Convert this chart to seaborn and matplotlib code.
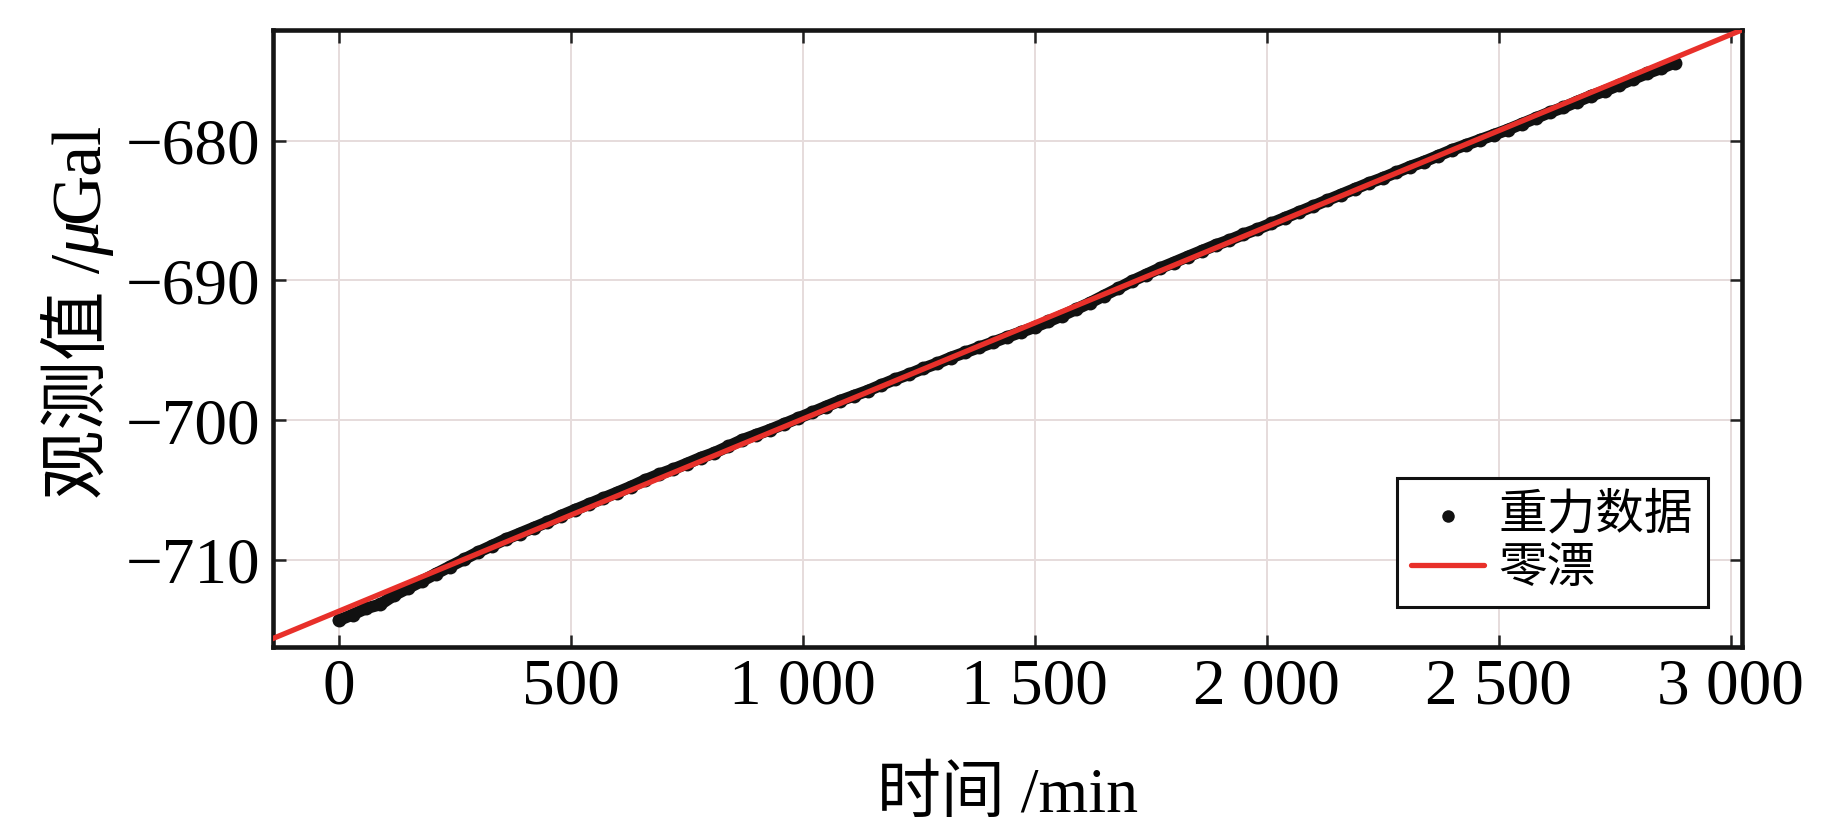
"""
重力仪零漂曲线: 观测值 vs 时间 (散点 + 线性零漂)
"""

import matplotlib
matplotlib.use("Agg")
import matplotlib.pyplot as plt
import matplotlib.ticker as mticker
import seaborn as sns

# ─────────────────────────────────────────
# 数据
# ─────────────────────────────────────────
TIME_MIN = [
    0, 30, 60, 90, 120, 150, 180, 210, 240, 270,
    300, 330, 360, 390, 420, 450, 480, 510, 540, 570,
    600, 630, 660, 690, 720, 750, 780, 810, 840, 870,
    900, 930, 960, 990, 1020, 1050, 1080, 1110, 1140, 1170,
    1200, 1230, 1260, 1290, 1320, 1350, 1380, 1410, 1440, 1470,
    1500, 1530, 1560, 1590, 1620, 1650, 1680, 1710, 1740, 1770,
    1800, 1830, 1860, 1890, 1920, 1950, 1980, 2010, 2040, 2070,
    2100, 2130, 2160, 2190, 2220, 2250, 2280, 2310, 2340, 2370,
    2400, 2430, 2460, 2490, 2520, 2550, 2580, 2610, 2640, 2670,
    2700, 2730, 2760, 2790, 2820, 2850, 2880,
]
GRAVITY = [
    -714.30, -713.89, -713.43, -713.16, -712.50, -711.99, -711.48, -710.96, -710.45, -709.94,
    -709.43, -708.97, -708.50, -708.09, -707.68, -707.27, -706.81, -706.39, -705.98, -705.57,
    -705.16, -704.74, -704.28, -703.87, -703.51, -703.10, -702.68, -702.32, -701.86, -701.40,
    -701.03, -700.67, -700.26, -699.85, -699.44, -699.02, -698.61, -698.25, -697.89, -697.47,
    -697.06, -696.70, -696.29, -695.93, -695.51, -695.15, -694.79, -694.43, -694.06, -693.70,
    -693.34, -692.93, -692.51, -692.05, -691.59, -691.08, -690.57, -690.05, -689.59, -689.13,
    -688.72, -688.30, -687.89, -687.48, -687.12, -686.71, -686.34, -685.93, -685.52, -685.11,
    -684.70, -684.28, -683.87, -683.46, -683.05, -682.68, -682.27, -681.86, -681.50, -681.09,
    -680.67, -680.31, -679.95, -679.59, -679.22, -678.81, -678.40, -677.99, -677.63, -677.21,
    -676.80, -676.44, -676.03, -675.61, -675.20, -674.84, -674.43,
]

# 零漂直线端点
DRIFT_T = [-150, 3030]
DRIFT_V = [-715.71, -672.02]

X_TICKS = [0, 500, 1000, 1500, 2000, 2500, 3000]
Y_TICKS = [-710, -700, -690, -680]

COR_DADOS = "#111111"
COR_DRIFT = "#e8302a"
COR_GRADE = "#e6dcdc"

# ─────────────────────────────────────────
# estilo
# ─────────────────────────────────────────
sns.set_theme(style="ticks")
plt.rcParams["font.family"] = ["Liberation Serif", "Noto Sans CJK SC", "DejaVu Sans"]
plt.rcParams["axes.unicode_minus"] = True
plt.rcParams["text.color"] = "black"
plt.rcParams["axes.labelcolor"] = "black"
plt.rcParams["xtick.color"] = "black"
plt.rcParams["ytick.color"] = "black"


def fmt_milhar(x, _):
    v = int(round(x))
    s = f"{abs(v):,}".replace(",", " ")
    return ("\u2212" + s) if v < 0 else s


fig = plt.figure(figsize=(18.43, 8.27), dpi=100)
ax = fig.add_axes([0.148, 0.2177, 0.797, 0.746])

# 数据带: 连线 + 点
sns.lineplot(x=TIME_MIN, y=GRAVITY, color=COR_DADOS, linewidth=8.5,
             legend=False, ax=ax, zorder=2)
sns.scatterplot(x=TIME_MIN, y=GRAVITY, color=COR_DADOS, s=100, linewidth=0,
                label="重力数据", ax=ax, zorder=3)
sns.lineplot(x=DRIFT_T, y=DRIFT_V, color=COR_DRIFT, linewidth=3.8,
             label="零漂", ax=ax, zorder=4)

ax.set_xlim(-142, 3024)
ax.set_ylim(-716.2, -672.1)
ax.set_xticks(X_TICKS)
ax.set_yticks(Y_TICKS)
ax.xaxis.set_major_formatter(mticker.FuncFormatter(fmt_milhar))
ax.yaxis.set_major_formatter(mticker.FuncFormatter(fmt_milhar))

ax.grid(True, color=COR_GRADE, linewidth=1.4)
ax.set_axisbelow(True)

for sp in ax.spines.values():
    sp.set_linewidth(3.3)
    sp.set_color("#151515")
    sp.set_visible(True)

ax.tick_params(axis="both", which="major", direction="in", length=9, width=1.8,
               labelsize=47, top=True, right=True, color="#222222")
ax.tick_params(axis="y", pad=9)
ax.tick_params(axis="x", pad=8)

ax.set_xlabel("时间 /min", fontsize=46, labelpad=36)

# y 轴标签: 分段绘制, 只有 μ 为斜体
partes = [("观测值 /", "normal"), ("μ", "italic"), ("Gal", "normal")]
fig.canvas.draw()
renderer = fig.canvas.get_renderer()
textos = []
for txt, estilo in partes:
    t = fig.text(82 / 1843, 0, txt, rotation=90, fontsize=50, style=estilo,
                 ha="center", va="bottom")
    textos.append(t)
alturas = [t.get_window_extent(renderer).height for t in textos]
total = sum(alturas) - 4
inicio = (827 - 311) - total / 2
for t, h in zip(textos, alturas):
    t.set_y(inicio / 827)
    inicio += h - 2

leg = ax.legend(loc="lower right", bbox_to_anchor=(0.977, 0.065),
                fontsize=35, frameon=True, fancybox=False, framealpha=1,
                edgecolor="#111111", handlelength=1.5, handletextpad=0.3,
                labelspacing=0.2, borderpad=0.3, markerscale=0.9,
                borderaxespad=0)
leg.get_frame().set_linewidth(2.2)

fig.savefig("out.png", dpi=100, facecolor="white")
